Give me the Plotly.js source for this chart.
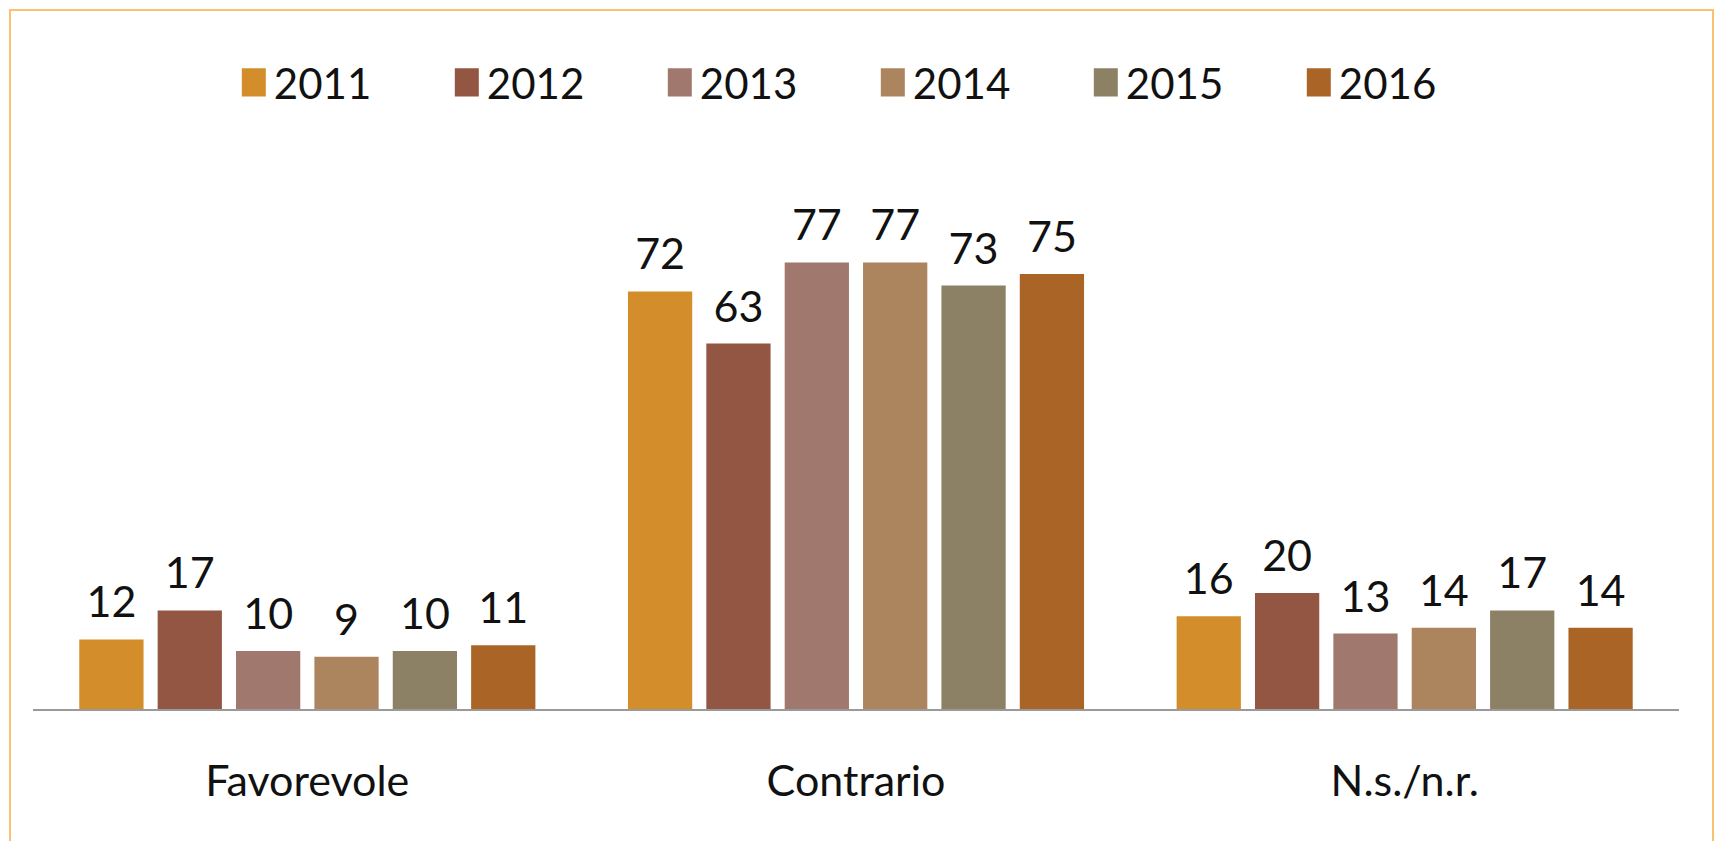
<!DOCTYPE html>
<html>
<head>
<meta charset="utf-8">
<script src="https://cdn.plot.ly/plotly-3.0.1.min.js"></script>
<style>
  html, body { margin: 0; padding: 0; background: #fff; overflow: hidden; }
  #wrap { position: relative; width: 1715px; height: 841px; overflow: hidden; }
  #frame { position: absolute; left: 9px; top: 9px; width: 1701px; height: 900px;
           border: 2px solid #F7C272; pointer-events: none; z-index: 5; }
  #chart { position: absolute; left: 0; top: 0; width: 1715px; height: 841px; }
</style>
</head>
<body>
<div id="wrap">
  <div id="chart"></div>
  <div id="frame"></div>
</div>
<script>
const categories = ["Favorevole", "Contrario", "N.s./n.r."];
const years = ["2011", "2012", "2013", "2014", "2015", "2016"];
const v2011 = [12, 72, 16];
const v2012 = [17, 63, 20];
const v2013 = [10, 77, 13];
const v2014 = [9, 77, 14];
const v2015 = [10, 73, 17];
const v2016 = [11, 75, 14];
const seriesValues = [v2011, v2012, v2013, v2014, v2015, v2016];
const colors = ["#D38E2B", "#925643", "#A0786E", "#AC845E", "#8C8165", "#AA6526"];

const FONT = "Lato, 'Noto Sans', sans-serif";

const traces = years.map((yr, i) => ({
  type: "bar",
  name: yr,
  x: categories,
  y: seriesValues[i],
  text: seriesValues[i].map(String),
  textposition: "outside",
  cliponaxis: false,
  textfont: { family: FONT, size: 43, color: "#111" },
  marker: { color: colors[i], line: { width: 0 } },
  hoverinfo: "x+y+name"
}));

const layout = {
  width: 1715,
  height: 841,
  margin: { l: 33, r: 36, t: 187, b: 132 },
  paper_bgcolor: "#ffffff",
  plot_bgcolor: "#ffffff",
  barmode: "group",
  bargap: 0.143,
  bargroupgap: 0.18,
  font: { family: FONT, size: 40, color: "#111" },
  showlegend: true,
  legend: {
    orientation: "h",
    x: 0.122, xanchor: "left",
    y: 1.20, yanchor: "middle",
    entrywidth: 168, entrywidthmode: "pixels",
    font: { family: FONT, size: 42, color: "#111" },
    traceorder: "normal"
  },
  xaxis: {
    type: "category",
    showline: true, linecolor: "#9a9a9a", linewidth: 2,
    showgrid: false, zeroline: false,
    ticks: "", ticklabelstandoff: 33,
    tickfont: { family: FONT, size: 43, color: "#111" }
  },
  yaxis: {
    range: [0, 90],
    visible: false,
    showgrid: false, zeroline: false
  }
};

Plotly.newPlot("chart", traces, layout, { displayModeBar: false, staticPlot: true }).then(gd => {
  // lift the value labels a little further above the bars
  gd.querySelectorAll("text.bartext").forEach(t => {
    const tr = t.getAttribute("transform") || "";
    t.setAttribute("transform", "translate(0,-10) " + tr);
  });
  // enlarge legend swatches
  gd.querySelectorAll(".legendpoints path").forEach(p => {
    const tr = p.getAttribute("transform") || "";
    p.setAttribute("transform", tr + " scale(2,2.35)");
  });
});
</script>
</body>
</html>
